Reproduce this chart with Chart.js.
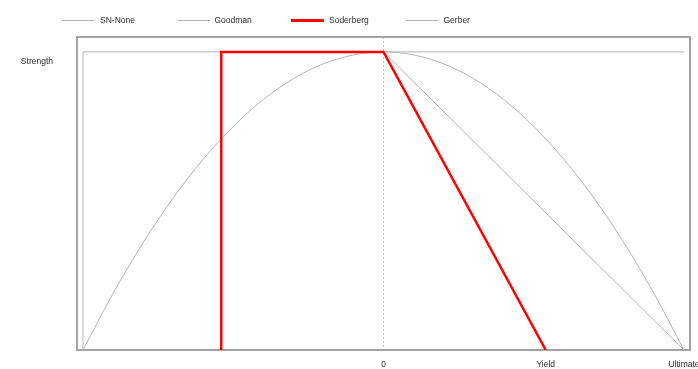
<!DOCTYPE html>
<html>
<head>
<meta charset="utf-8">
<script src="https://cdn.jsdelivr.net/npm/chart.js@4.4.0/dist/chart.umd.min.js"></script>
<style>
  html, body { margin: 0; padding: 0; background: #fff; }
  #wrap { position: relative; width: 698px; height: 369px; overflow: hidden; }
  #legend { position: absolute; left: 62px; top: 14px; height: 12px; display: flex;
            font: 8.5px "Liberation Sans", Arial, sans-serif; color: #2a2a2a; }
  .item { width: 114.5px; display: flex; align-items: center; }
  .swatch { width: 33px; margin-right: 5px; }
</style>
</head>
<body>
<div id="wrap">
  <canvas id="c" width="698" height="369"></canvas>
  <div id="legend"></div>
</div>
<script>
// Fatigue failure criteria: mean stress (x) vs alternating strength (y)
const seriesNames = ['SN-None', 'Goodman', 'Soderberg', 'Gerber'];
const tickValues = [0, 54, 100];
const tickLabels = ['0', 'Yield', 'Ultimate'];
const strengthLevel = 100;
const strengthLabel = 'Strength';

const snNoneX = [-100, -100, 100];
const snNoneY = [0, 100, 100];

const goodmanX = [0, 100];
const goodmanY = [100, 0];

const soderbergX = [-54, -54, 0, 54];
const soderbergY = [0, 100, 100, 0];

const gerberX = [-100, -90, -80, -70, -60, -50, -40, -30, -20, -10, 0, 10, 20, 30, 40, 50, 60, 70, 80, 90, 100];
const gerberY = [0, 19, 36, 51, 64, 75, 84, 91, 96, 99, 100, 99, 96, 91, 84, 75, 64, 51, 36, 19, 0];

const pts = (xs, ys) => xs.map((x, i) => ({ x, y: ys[i] }));

const GRAY = '#b4b4b4';
const TEXT = '#2a2a2a';
const FONT = { family: '"Liberation Sans", Arial, sans-serif', size: 8.5 };

const framePlugin = {
  id: 'frame',
  beforeDatasetsDraw(chart) {
    const { ctx, chartArea: a } = chart;
    ctx.save();
    ctx.strokeStyle = '#a2a2a2';
    ctx.lineWidth = 2;
    ctx.strokeRect(a.left, a.top, a.right - a.left, a.bottom - a.top);
    ctx.restore();
  }
};

const chart = new Chart(document.getElementById('c'), {
  type: 'line',
  data: {
    datasets: [
      { label: seriesNames[0], data: pts(snNoneX, snNoneY), borderColor: GRAY, borderWidth: 1, order: 3 },
      { label: seriesNames[1], data: pts(goodmanX, goodmanY), borderColor: GRAY, borderWidth: 1, order: 2 },
      { label: seriesNames[2], data: pts(soderbergX, soderbergY), borderColor: '#ff0000', borderWidth: 2.5, order: 0 },
      { label: seriesNames[3], data: pts(gerberX, gerberY), borderColor: GRAY, borderWidth: 1, order: 1,
        cubicInterpolationMode: 'monotone' }
    ]
  },
  options: {
    responsive: false,
    devicePixelRatio: 1,
    animation: false,
    events: [],
    layout: { padding: { top: 37, right: 8, left: 0, bottom: 0 } },
    elements: { point: { radius: 0 }, line: { fill: false } },
    plugins: { legend: { display: false }, tooltip: { enabled: false } },
    scales: {
      x: {
        type: 'linear',
        min: -102,
        max: 102,
        afterBuildTicks: s => { s.ticks = tickValues.map(v => ({ value: v })); },
        afterFit: s => { s.height = 19; s.paddingLeft = 0; s.paddingRight = 0; },
        ticks: {
          autoSkip: false, maxRotation: 0, padding: 10, color: TEXT, font: FONT,
          callback: v => tickLabels[tickValues.indexOf(v)]
        },
        grid: {
          drawTicks: false,
          lineWidth: 1,
          color: c => (c.tick && c.tick.value === 0 ? '#c4c4c4' : 'rgba(0,0,0,0)')
        },
        border: { display: false, dash: [2, 2] }
      },
      y: {
        type: 'linear',
        min: 0,
        max: 105,
        afterBuildTicks: s => { s.ticks = [{ value: strengthLevel }]; },
        afterFit: s => { s.width = 77; s.paddingTop = 0; s.paddingBottom = 0; },
        ticks: {
          padding: 24, labelOffset: 10, color: TEXT, font: FONT,
          callback: () => strengthLabel
        },
        grid: { display: false, drawTicks: false },
        border: { display: false }
      }
    }
  },
  plugins: [framePlugin]
});

// Legend with evenly spaced entries above the plot
const legend = document.getElementById('legend');
chart.data.datasets.forEach(ds => {
  const item = document.createElement('div');
  item.className = 'item';
  const sw = document.createElement('span');
  sw.className = 'swatch';
  sw.style.borderTop = Math.max(1, Math.round(ds.borderWidth)) + 'px solid ' + ds.borderColor;
  const tx = document.createElement('span');
  tx.textContent = ds.label;
  item.appendChild(sw);
  item.appendChild(tx);
  legend.appendChild(item);
});
</script>
</body>
</html>
